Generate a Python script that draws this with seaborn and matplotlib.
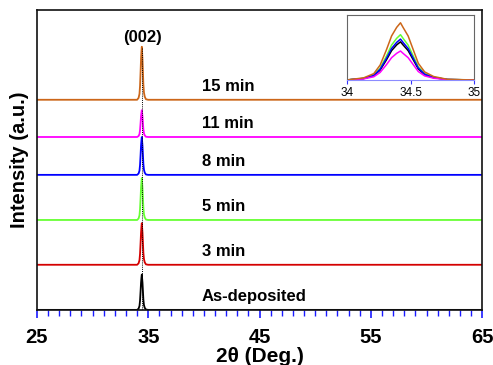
import matplotlib
matplotlib.use("Agg")
import matplotlib.pyplot as plt
import seaborn as sns
import pandas as pd
from matplotlib.ticker import MultipleLocator, FixedLocator

# datos
muestras = ["As-deposited", "3 min", "5 min", "8 min", "11 min", "15 min"]
colores = ["#000000", "#d40000", "#66ff33", "#0000ff", "#ff00ff", "#cc6619"]
cuentas_pico = [1120, 1320, 1330, 1200, 850, 1680]      # altura del pico (002)
desplazamiento = [0, 1430, 2850, 4280, 5480, 6660]       # separacion vertical
# perfil normalizado del pico (002) leido del recuadro
perfil_2theta = [34.00, 34.13, 34.21, 34.26, 34.31, 34.35, 34.39, 34.42,
                 34.44, 34.48, 34.52, 34.56, 34.61, 34.68, 34.79, 34.99]
perfil_rel = [0.0, 0.036, 0.11, 0.26, 0.53, 0.77, 0.92, 1.0,
              0.92, 0.77, 0.53, 0.29, 0.14, 0.06, 0.01, 0.0]
x_min, x_max = 25, 65
ticks_x = [25, 35, 45, 55, 65]
muestras_recuadro = ["As-deposited", "5 min", "8 min", "11 min", "15 min"]

filas = []
for m, c, d in zip(muestras, cuentas_pico, desplazamiento):
    xs = [x_min] + perfil_2theta + [x_max]
    ys = [0.0] + perfil_rel + [0.0]
    for x, y in zip(xs, ys):
        filas.append({"muestra": m, "2theta": x, "I": d + c * y, "I_raw": c * y})
df = pd.DataFrame(filas)

sns.set_style("white")
plt.rcParams['font.family'] = ['Liberation Sans', 'DejaVu Sans']
plt.rcParams['text.color'] = 'black'
plt.rcParams['axes.labelcolor'] = 'black'
plt.rcParams['xtick.labelcolor'] = 'black'

fig = plt.figure(figsize=(4.93, 3.65), dpi=100)
ax = fig.add_axes([0.075, 0.151, 0.903, 0.822])
paleta = dict(zip(muestras, colores))

sns.lineplot(data=df, x="2theta", y="I", hue="muestra", palette=paleta,
             estimator=None, sort=False, legend=False, lw=1.3, ax=ax)
ax.vlines(perfil_2theta[7], 0, desplazamiento[-1] + cuentas_pico[-1],
          colors="black", linestyles=(0, (1, 1.2)), lw=0.7, zorder=5)

ax.set_xlim(x_min, x_max)
ax.set_ylim(0, 9510)
ax.set_yticks([])
ax.xaxis.set_major_locator(FixedLocator(ticks_x))
ax.xaxis.set_minor_locator(MultipleLocator(1))
ax.tick_params(axis="x", which="major", direction="out", length=6, width=1.2,
               color="#1a1aff", labelsize=14.5, pad=7, bottom=True)
ax.tick_params(axis="x", which="minor", direction="out", length=4, width=1.0,
               color="#1a1aff", bottom=True)
for lab in ax.get_xticklabels():
    lab.set_fontweight("bold")
for s in ax.spines.values():
    s.set_color("#111111")
    s.set_linewidth(1.2)
ax.set_xlabel("2θ (Deg.)", fontsize=15, fontweight="bold", labelpad=0)
ax.set_ylabel("Intensity (a.u.)", fontsize=14.5, fontweight="bold", labelpad=6)

for m, d in zip(muestras, desplazamiento):
    ax.text(39.8, d + 430, m, fontsize=12, fontweight="bold", ha="left", va="center")
ax.text(34.45, 8620, "(002)", fontsize=12, fontweight="bold", ha="center", va="center")

# recuadro con el pico ampliado
axi = fig.add_axes([0.704, 0.781, 0.258, 0.178])
df_in = df[df["muestra"].isin(muestras_recuadro)]
sns.lineplot(data=df_in, x="2theta", y="I_raw", hue="muestra", palette=paleta,
             estimator=None, sort=False, legend=False, lw=1.1, ax=axi)
axi.set_xlim(34, 35)
axi.set_ylim(0, 1910)
axi.set_yticks([])
axi.set_xticks([34, 34.5, 35])
axi.set_xticklabels(["34", "34.5", "35"])
axi.tick_params(axis="x", direction="out", length=3, width=0.8, color="#3333ff",
                labelsize=8.5, pad=2, bottom=True)
axi.set_xlabel("")
axi.set_ylabel("")
for s in axi.spines.values():
    s.set_color("#666666")
    s.set_linewidth(0.8)
axi.spines["bottom"].set_color("#8c8cff")

fig.savefig("out.png", dpi=100)
plt.close(fig)
